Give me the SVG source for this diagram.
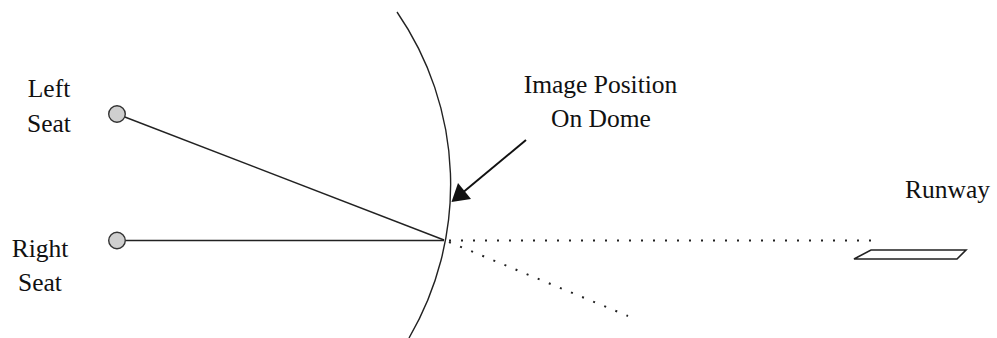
<svg xmlns="http://www.w3.org/2000/svg" width="997" height="338" viewBox="0 0 997 338">
<style>
text{font-family:'Liberation Serif','Times New Roman',serif;font-size:25.5px;fill:#111;text-anchor:middle}
.seat{fill:#cfcfcf;stroke:#333;stroke-width:1.4}
.ln{stroke:#222;stroke-width:1.4;fill:none}
.dot{stroke:#222;stroke-width:2;stroke-dasharray:2 10;fill:none}
</style>
<g id="dome">
<path class="ln" d="M 397 12 A 304 304 0 0 1 409 338"/>
</g>
<g id="connectors">
<line class="ln" x1="117" y1="114" x2="444" y2="240"/>
<line class="ln" x1="125.5" y1="240.5" x2="444" y2="240.5"/>
<line class="dot" x1="449" y1="240.5" x2="876" y2="240.5"/>
<line class="dot" x1="449" y1="242" x2="628" y2="316"/>
<line stroke="#111" stroke-width="2" x1="526" y1="140" x2="455" y2="199"/>
<path d="M 451.5 202 L 458 183 L 471 199 Z" fill="#111"/>
</g>
<g id="left-seat">
<circle class="seat" cx="117" cy="114" r="8.3"/>
<text x="49" y="97">Left</text>
<text x="49" y="131.5">Seat</text>
</g>
<g id="right-seat">
<circle class="seat" cx="117" cy="240.5" r="8.3"/>
<text x="40" y="257">Right</text>
<text x="40" y="291">Seat</text>
</g>
<g id="image-position">
<text x="600.5" y="93">Image Position</text>
<text x="601" y="127">On Dome</text>
</g>
<g id="runway">
<text x="947.5" y="198">Runway</text>
<polygon points="871,250 966,250 957,259 854,259" fill="none" stroke="#222" stroke-width="1.6"/>
</g>
</svg>
